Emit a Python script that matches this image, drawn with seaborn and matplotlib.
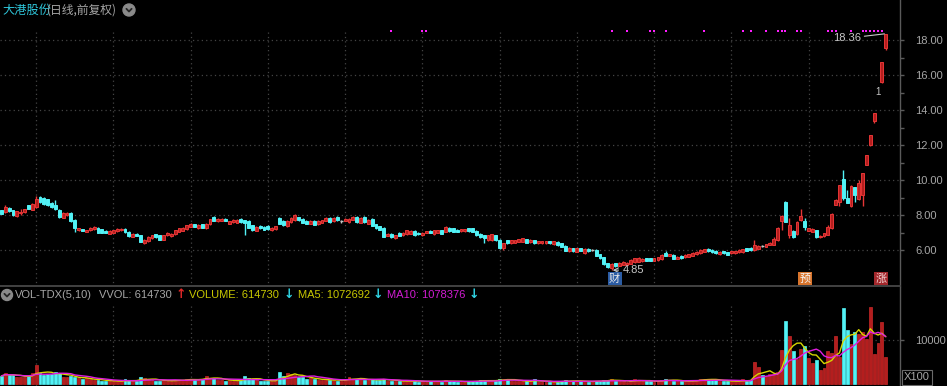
import numpy as np
import pandas as pd
import matplotlib
matplotlib.use("Agg")
import matplotlib.pyplot as plt
import seaborn as sns
from matplotlib.patches import Ellipse
from matplotlib.lines import Line2D

# daily candles (前复权)
opens = [8.26, 8.17, 8.42, 8.26, 7.92, 8.10, 8.17, 8.55, 8.30, 8.45,
         9.02, 9.00, 8.89, 8.68, 8.60, 8.30, 7.85, 8.00, 8.13, 7.74,
         7.13, 7.19, 7.04, 7.13, 7.19, 7.26, 7.19, 7.09, 6.94, 6.98,
         7.08, 7.13, 7.21, 7.04, 6.75, 6.94, 6.83, 6.38, 6.51, 6.66,
         6.89, 6.83, 6.60, 6.85, 6.79, 6.89, 7.04, 7.09, 7.19, 7.32,
         7.47, 7.23, 7.47, 7.23, 7.47, 7.89, 7.64, 7.66, 7.79, 7.51,
         7.60, 7.57, 7.79, 7.70, 7.66, 7.42, 7.09, 7.38, 7.32, 7.38,
         7.13, 7.19, 7.85, 7.66, 7.36, 7.58, 7.70, 7.87, 7.79, 7.66,
         7.51, 7.66, 7.47, 7.57, 7.66, 7.85, 7.64, 7.89, 7.66, 7.66,
         7.60, 7.74, 7.89, 7.55, 7.89, 7.51, 7.79, 7.47, 7.36, 7.26,
         6.81, 6.94, 6.66, 6.98, 6.85, 6.91, 6.94, 7.09, 7.00, 6.85,
         6.98, 7.09, 6.91, 7.00, 7.13, 7.04, 7.26, 7.23, 7.17, 7.08,
         7.08, 7.23, 7.23, 7.09, 6.94, 6.85, 6.57, 6.57, 6.85, 6.60,
         6.09, 6.57, 6.38, 6.42, 6.47, 6.47, 6.62, 6.43, 6.57, 6.38,
         6.38, 6.40, 6.51, 6.32, 6.47, 6.38, 6.25, 5.94, 6.09, 5.91,
         6.09, 5.81, 6.06, 6.00, 6.00, 5.75, 5.58, 5.25, 4.96, 5.25,
         5.09, 5.15, 5.15, 5.21, 5.30, 5.34, 5.36, 5.53, 5.53, 5.40,
         5.43, 5.47, 5.85, 5.66, 5.72, 5.49, 5.68, 5.58, 5.62, 5.68,
         5.77, 5.81, 5.91, 6.06, 6.00, 5.96, 5.77, 5.94, 5.87, 5.81,
         5.81, 5.87, 5.87, 6.09, 6.13, 6.00, 6.06, 6.235, 6.19, 6.29,
         6.29, 6.57, 7.66, 8.76, 6.86, 7.10, 6.91, 7.71, 7.66, 7.09,
         7.05, 7.14, 6.72, 6.80, 6.86, 7.24, 8.57, 8.76, 10.04, 8.95,
         8.51, 9.58, 8.90, 9.14, 10.86, 12.00, 13.38, 15.19, 15.60, 17.52]
closes = [8.08, 8.45, 8.23, 7.98, 8.21, 8.20, 8.32, 8.36, 8.64, 8.92,
          8.74, 8.64, 8.55, 8.45, 8.36, 7.89, 8.13, 8.13, 7.66, 7.23,
          7.23, 7.09, 7.13, 7.26, 7.32, 7.00, 7.00, 7.00, 7.09, 7.13,
          7.21, 7.21, 7.02, 6.79, 6.94, 6.81, 6.47, 6.60, 6.75, 6.85,
          6.72, 6.60, 6.85, 7.00, 6.94, 7.13, 7.23, 7.26, 7.42, 7.51,
          7.32, 7.43, 7.26, 7.51, 7.75, 7.66, 7.79, 7.79, 7.66, 7.64,
          7.74, 7.74, 7.60, 7.55, 7.28, 7.13, 7.32, 7.23, 7.17, 7.19,
          7.26, 7.36, 7.51, 7.42, 7.66, 7.83, 8.02, 7.70, 7.57, 7.51,
          7.66, 7.45, 7.66, 7.70, 7.85, 7.60, 7.85, 7.70, 7.66, 7.79,
          7.79, 7.89, 7.60, 7.85, 7.60, 7.74, 7.38, 7.23, 7.17, 6.75,
          6.94, 6.72, 6.85, 6.81, 6.98, 7.13, 7.09, 6.85, 6.89, 7.00,
          7.08, 6.98, 7.13, 7.13, 6.94, 7.32, 7.08, 7.04, 7.04, 7.19,
          7.19, 7.08, 7.04, 6.85, 6.72, 6.66, 6.85, 6.89, 6.57, 6.09,
          6.38, 6.38, 6.57, 6.57, 6.62, 6.66, 6.42, 6.60, 6.38, 6.51,
          6.51, 6.51, 6.38, 6.51, 6.28, 6.19, 5.96, 6.13, 5.94, 6.09,
          5.96, 6.06, 5.94, 6.00, 5.66, 5.53, 5.19, 5.02, 5.21, 5.06,
          5.28, 5.34, 5.28, 5.43, 5.53, 5.57, 5.49, 5.40, 5.38, 5.53,
          5.58, 5.72, 5.66, 5.77, 5.49, 5.62, 5.53, 5.72, 5.77, 5.85,
          5.91, 6.00, 6.04, 5.94, 5.87, 5.81, 5.91, 5.81, 5.72, 5.94,
          5.94, 6.00, 6.04, 5.96, 6.00, 6.28, 6.25, 6.23, 6.32, 6.42,
          6.61, 7.28, 7.96, 7.62, 7.43, 6.76, 7.62, 7.94, 7.33, 7.24,
          7.22, 6.72, 6.82, 6.95, 7.30, 8.06, 8.86, 9.71, 8.95, 8.70,
          9.66, 9.14, 9.85, 10.38, 11.42, 12.56, 13.81, 15.19, 16.72, 18.36]
highs = [8.30, 8.55, 8.46, 8.30, 8.24, 8.36, 8.35, 8.58, 8.68, 9.11,
         9.06, 9.04, 8.92, 8.72, 8.85, 8.34, 8.16, 8.16, 8.16, 7.78,
         7.26, 7.22, 7.16, 7.29, 7.35, 7.29, 7.22, 7.12, 7.12, 7.16,
         7.24, 7.24, 7.24, 7.07, 6.97, 6.97, 6.86, 6.63, 6.78, 6.88,
         6.92, 6.86, 6.88, 7.03, 6.97, 7.16, 7.26, 7.29, 7.45, 7.54,
         7.50, 7.46, 7.50, 7.54, 7.78, 7.92, 7.82, 7.82, 7.82, 7.67,
         7.77, 7.77, 7.82, 7.74, 7.69, 7.45, 7.35, 7.41, 7.35, 7.41,
         7.29, 7.39, 7.88, 7.69, 7.69, 7.86, 8.05, 7.90, 7.82, 7.69,
         7.69, 7.69, 7.69, 7.73, 7.88, 7.88, 7.88, 7.92, 7.74, 7.82,
         7.82, 7.92, 7.92, 7.88, 7.92, 7.77, 7.82, 7.50, 7.39, 7.29,
         6.97, 6.97, 6.88, 7.01, 7.01, 7.16, 7.12, 7.17, 7.03, 7.03,
         7.11, 7.12, 7.16, 7.16, 7.16, 7.35, 7.29, 7.26, 7.20, 7.22,
         7.22, 7.26, 7.26, 7.12, 6.97, 6.88, 6.88, 6.92, 6.88, 6.63,
         6.41, 6.60, 6.60, 6.60, 6.65, 6.69, 6.65, 6.63, 6.60, 6.54,
         6.54, 6.54, 6.54, 6.54, 6.50, 6.41, 6.28, 6.16, 6.12, 6.12,
         6.12, 6.09, 6.09, 6.04, 6.03, 5.78, 5.61, 5.28, 5.24, 5.28,
         5.31, 5.37, 5.31, 5.46, 5.56, 5.60, 5.52, 5.56, 5.56, 5.56,
         5.61, 5.75, 5.94, 5.80, 5.75, 5.65, 5.71, 5.75, 5.80, 5.88,
         5.94, 6.03, 6.07, 6.09, 6.03, 5.99, 5.94, 5.97, 5.90, 5.97,
         5.97, 6.03, 6.07, 6.12, 6.16, 6.57, 6.28, 6.27, 6.35, 6.45,
         6.76, 7.31, 7.98, 8.79, 7.81, 7.13, 7.65, 8.34, 7.81, 7.27,
         7.25, 7.17, 6.85, 6.98, 7.45, 8.09, 8.89, 9.74, 10.57, 9.43,
         9.69, 9.61, 10.00, 10.41, 11.42, 12.56, 13.81, 15.19, 16.72, 18.36]
lows = [8.04, 8.14, 8.20, 7.95, 7.88, 8.00, 8.14, 8.33, 8.26, 8.42,
        8.70, 8.60, 8.52, 8.42, 8.30, 7.85, 7.82, 7.97, 7.62, 7.04,
        7.10, 7.06, 7.01, 7.10, 7.16, 6.97, 6.97, 6.97, 6.91, 6.95,
        7.05, 7.10, 6.99, 6.76, 6.72, 6.78, 6.44, 6.34, 6.48, 6.63,
        6.69, 6.57, 6.57, 6.82, 6.76, 6.86, 7.01, 7.06, 7.16, 7.29,
        7.29, 7.20, 7.23, 7.20, 7.44, 7.63, 7.61, 7.63, 7.63, 7.48,
        7.57, 7.54, 7.57, 6.85, 7.25, 7.10, 7.06, 7.20, 7.14, 7.16,
        7.10, 7.16, 7.48, 7.39, 7.33, 7.55, 7.67, 7.67, 7.54, 7.48,
        7.48, 7.42, 7.44, 7.54, 7.63, 7.57, 7.61, 7.67, 7.57, 7.63,
        7.57, 7.71, 7.57, 7.52, 7.57, 7.48, 7.35, 7.20, 7.14, 6.72,
        6.78, 6.69, 6.63, 6.78, 6.82, 6.88, 6.91, 6.82, 6.86, 6.82,
        6.95, 6.95, 6.88, 6.97, 6.91, 7.01, 7.05, 7.01, 7.01, 7.05,
        7.05, 7.05, 7.01, 6.82, 6.69, 6.38, 6.54, 6.54, 6.54, 6.06,
        6.00, 6.35, 6.35, 6.39, 6.44, 6.44, 6.39, 6.40, 6.35, 6.35,
        6.35, 6.37, 6.35, 6.29, 6.25, 6.16, 5.93, 5.91, 5.91, 5.88,
        5.93, 5.78, 5.91, 5.96, 5.63, 5.50, 5.16, 4.99, 4.85, 5.03,
        5.06, 5.12, 5.12, 5.18, 5.27, 5.31, 5.33, 5.37, 5.35, 5.37,
        5.40, 5.44, 5.63, 5.63, 5.46, 5.46, 5.50, 5.55, 5.59, 5.65,
        5.74, 5.78, 5.88, 5.91, 5.84, 5.78, 5.74, 5.78, 5.69, 5.78,
        5.78, 5.84, 5.84, 5.93, 5.97, 5.97, 6.03, 6.19, 6.16, 6.26,
        6.26, 6.54, 7.15, 7.59, 6.67, 6.67, 6.88, 7.68, 7.14, 7.06,
        7.02, 6.69, 6.69, 6.77, 6.83, 7.21, 8.57, 8.51, 8.86, 8.67,
        8.48, 8.76, 8.87, 8.51, 10.83, 11.97, 13.23, 15.19, 15.57, 17.42]
# volume, in units of 100 (axis "X100")
volumes = [1880, 2480, 2100, 2100, 1700, 1700, 1580, 1880, 2630, 4360,
           2480, 2100, 2260, 2330, 2860, 2480, 1580, 1580, 1880, 1580,
           1350, 1130, 1350, 1130, 900, 1050, 800, 700, 750, 680,
           720, 650, 1130, 900, 700, 800, 1580, 1350, 1200, 900,
           820, 780, 900, 850, 700, 950, 1050, 980, 1100, 1300,
           900, 1000, 1250, 1950, 1500, 1350, 1000, 900, 850, 950,
           800, 760, 900, 1880, 1350, 1250, 900, 800, 750, 850,
           700, 900, 2860, 1900, 2480, 2300, 2200, 1580, 1580, 1200,
           1450, 1100, 1000, 950, 1100, 900, 1000, 850, 700, 1200,
           1700, 1300, 1100, 1250, 1000, 900, 1150, 1050, 900, 1300,
           850, 800, 700, 750, 650, 800, 700, 750, 600, 650,
           600, 700, 750, 650, 600, 900, 700, 650, 600, 550,
           600, 650, 700, 800, 900, 1000, 700, 800, 750, 1300,
           1150, 1300, 800, 700, 650, 750, 700, 650, 1200, 600,
           550, 500, 550, 650, 600, 700, 900, 750, 800, 700,
           650, 700, 600, 550, 800, 850, 950, 900, 1200, 700,
           650, 750, 600, 800, 1150, 900, 750, 700, 650, 600,
           700, 1000, 1300, 900, 800, 700, 650, 700, 800, 850,
           900, 1200, 1300, 1100, 1000, 900, 800, 750, 700, 650,
           700, 750, 1130, 750, 975, 5110, 3835, 2100, 1955, 2256,
           2400, 2800, 7750, 14360, 10980, 7600, 5715, 7900, 8720, 6015,
           4890, 5490, 3230, 3760, 7500, 7000, 10980, 6240, 17300, 12260,
           9000, 11700, 11400, 11900, 10200, 17480, 6770, 9250, 13990, 6147]

signal_days = [101, 109, 110, 158, 162, 168, 169, 172, 182, 192, 194, 198,
               201, 202, 203, 206, 207, 214, 215, 216, 220, 223, 224, 225,
               226, 227, 228]
price_ticks = [6, 8, 10, 12, 14, 16, 18]
price_minor = [7, 9, 11, 13, 15, 17]
vol_ticks = [10000]
grid_days = [9, 29, 49, 69, 89, 109, 129, 149, 169, 189, 209]

RED = "#e63636"
RED_FILL = "#b41e1e"
CYAN = "#52f2f6"
GREY = "#c4c4c4"
TXT = "#a6a6a6"
GRID = "#444444"
CJK = ["Noto Sans CJK SC", "DejaVu Sans"]
LAT = ["Liberation Sans", "DejaVu Sans"]

sns.set_theme(style="dark", rc={"axes.facecolor": "black", "figure.facecolor": "black"})
plt.rcParams["font.family"] = LAT

df = pd.DataFrame({"o": opens, "c": closes, "h": highs, "l": lows, "v": volumes})
df["day"] = np.arange(len(df))
df["ma5"] = df.v.rolling(5, min_periods=1).mean()
df["ma10"] = df.v.rolling(10, min_periods=1).mean()

W, H = 947, 386
fig = plt.figure(figsize=(W / 100, H / 100), dpi=100)
ax1 = fig.add_axes([0, 100 / H, 900 / W, 286 / H])
ax2 = fig.add_axes([0, 0, 900 / W, 99 / H])
xlim = (-0.36, 232.68)

for ax in (ax1, ax2):
    ax.set_facecolor("black")
    ax.set_xlim(*xlim)
    ax.set_xticks([])
    ax.grid(False)
    for s in ["left", "top", "bottom"]:
        ax.spines[s].set_visible(False)
    ax.spines["right"].set_color("#5a5a5a")
    ax.spines["right"].set_linewidth(1)
    ax.yaxis.tick_right()
    ax.tick_params(axis="y", colors="#5a5a5a", labelcolor=TXT, labelsize=8,
                   length=3, pad=8, width=1)
ax1.spines["bottom"].set_visible(True)
ax1.spines["bottom"].set_color("#4a4a4a")

# price panel
ax1.set_ylim(3.943, 20.286)
ax1.set_yticks(price_ticks)
ax1.set_yticklabels([f"{v:.2f}" for v in price_ticks])
ax1.set_yticks(price_minor, minor=True)
ax1.tick_params(axis="y", which="minor", colors="#5a5a5a", length=3)
for v in price_ticks:
    ax1.axhline(v, color=GRID, ls=(0, (1, 2.5)), lw=0.9, zorder=0)
ax1.vlines(grid_days, 3.9, 18.6, color=GRID, ls=(0, (1, 2.5)), lw=0.9, zorder=0)

for r in df.itertuples():
    if r.h == r.l:
        continue
    if abs(r.c - r.o) < 0.015:
        ax1.vlines(r.day, r.l, r.h, color=GREY, lw=1, zorder=2)
        ax1.hlines(r.o, r.day - 0.38, r.day + 0.38, color=GREY, lw=1, zorder=2)
        continue
    up = r.c > r.o
    col = RED if up else CYAN
    ax1.vlines(r.day, r.l, r.h, color=col, lw=1, zorder=2)
    lo, hi = min(r.o, r.c), max(r.o, r.c)
    ax1.bar(r.day, max(hi - lo, 0.04), bottom=lo, width=0.74,
            color=RED_FILL if up else CYAN, edgecolor=col, linewidth=0.7, zorder=3)

ax1.scatter(signal_days, [18.51] * len(signal_days), marker="s", s=3.2,
            color="#ff1cff", linewidths=0, zorder=4)

ax1.text(227, 15.05, "1", color=GREY, fontsize=7, ha="center", va="center")
ax1.annotate("18.36", xy=(229, 18.36), xytext=(222.6, 18.1), ha="right", va="center",
             color="#c8c8c8", fontsize=8,
             arrowprops=dict(arrowstyle="-", color="#c8c8c8", lw=0.8,
                             shrinkA=0, shrinkB=1))
ax1.annotate("4.85", xy=(158.3, 4.85), xytext=(161.0, 4.85), ha="left", va="center",
             color="#c8c8c8", fontsize=8,
             arrowprops=dict(arrowstyle="->", color="#c8c8c8", lw=0.8,
                             shrinkA=1, shrinkB=0))

for day, txt, bg, fg in [(158.8, "财", "#2b5ca4", "#e6e6e6"),
                         (208.1, "预", "#d8742c", "#f4f4f4"),
                         (227.8, "涨", "#a3282c", "#f0d0d0")]:
    ax1.text(day, 4.37, txt, ha="center", va="center", fontsize=8, color=fg,
             family=CJK, bbox=dict(boxstyle="square,pad=0.12", fc=bg, ec="none"))

# volume panel
ax2.set_ylim(-384, 21964)
ax2.set_yticks(vol_ticks)
ax2.set_yticklabels([str(v) for v in vol_ticks])
ax2.axhline(10000, color=GRID, ls=(0, (1, 2.5)), lw=0.9, zorder=0)
ax2.vlines(grid_days, -384, 17900, color=GRID, ls=(0, (1, 2.5)), lw=0.9, zorder=0)
vol_up = df.c >= df.o
ax2.bar(df.day[vol_up], df.v[vol_up], width=0.74, color=RED_FILL,
        edgecolor="#c82828", linewidth=0.5, zorder=2)
ax2.bar(df.day[~vol_up], df.v[~vol_up], width=0.74, color=CYAN,
        edgecolor=CYAN, linewidth=0.5, zorder=2)
sns.lineplot(data=df, x="day", y="ma5", ax=ax2, color="#d6d600", lw=1, zorder=3)
sns.lineplot(data=df, x="day", y="ma10", ax=ax2, color="#e01ee0", lw=1, zorder=3)
ax2.set_xlim(*xlim)
ax2.set_xlabel("")
ax2.set_ylabel("")


def fx(x):
    return x / W


def fy(y):
    return 1 - y / H


def icon(cx, cy, r):
    fig.add_artist(Ellipse((fx(cx), fy(cy)), 2 * r / W, 2 * r / H,
                           transform=fig.transFigure, color="#8a8a8a"))
    fig.add_artist(Line2D([fx(cx - 2.6), fx(cx), fx(cx + 2.6)],
                          [fy(cy - 1.2), fy(cy + 1.5), fy(cy - 1.2)],
                          transform=fig.transFigure, color="#262626", lw=1.3))


# title
fig.text(fx(2), fy(10), "大港股份", color="#2ec4d8", fontsize=8.8, family=CJK, va="center")
fig.text(fx(47), fy(10), "(日线,前复权)", color=TXT, fontsize=8.5, family=CJK, va="center")
icon(129, 10, 6)

# volume legend
icon(7, 295, 5.5)
legend_items = [(15, "VOL-TDX(5,10)", TXT), (99, "VVOL: 614730", TXT),
                (189, "VOLUME: 614730", "#c8c800"),
                (298, "MA5: 1072692", "#c8c800"),
                (387, "MA10: 1078376", "#d21cd2")]
for x, s, c in legend_items:
    fig.text(fx(x), fy(295), s, color=c, fontsize=8, va="center", family=LAT)
for x, s, c in [(176, "↑", "#e02828"), (284, "↓", "#30d4e4"),
                (373, "↓", "#30d4e4"), (469, "↓", "#30d4e4")]:
    fig.text(fx(x), fy(295), s, color=c, fontsize=9, va="center",
             family="DejaVu Sans", fontweight="bold")

fig.text(fx(904), fy(377.5), "X100", color=TXT, fontsize=8, va="center",
         bbox=dict(boxstyle="square,pad=0.2", fc="black", ec="#6a6a6a", lw=0.8))

fig.savefig("out.png", dpi=100, facecolor="black")
